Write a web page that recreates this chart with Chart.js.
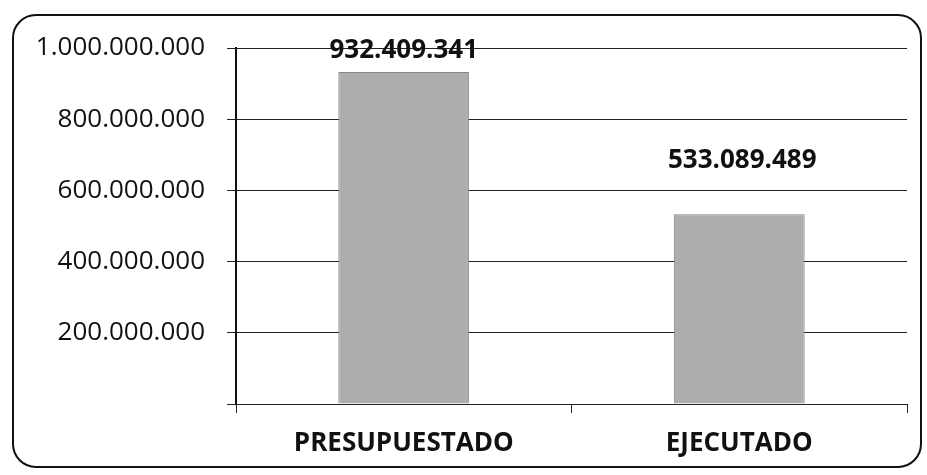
<!DOCTYPE html>
<html>
<head>
<meta charset="utf-8">
<script src="https://cdn.jsdelivr.net/npm/chart.js@4/dist/chart.umd.min.js"></script>
<style>
  body { margin: 0; background: #fff; }
  #wrap { position: relative; width: 927px; height: 475px; }
  #frame {
    position: absolute; left: 12px; top: 14px; width: 910px; height: 454px;
    border: 2px solid #111; border-radius: 24px; box-sizing: border-box;
  }
  canvas { position: absolute; left: 0; top: 0; }
</style>
</head>
<body>
<div id="wrap">
  <div id="frame"></div>
  <canvas id="chart" width="927" height="475"></canvas>
</div>
<script>
const categories = ['PRESUPUESTADO', 'EJECUTADO'];
const values = [932409341, 533089489];
const yTicks = [0, 200000000, 400000000, 600000000, 800000000, 1000000000];

// formato con puntos de miles
const fmt = (v) => String(v).replace(/\B(?=(\d{3})+(?!\d))/g, '.');

// etiquetas de valor encima de cada barra
const valueLabels = {
  id: 'valueLabels',
  afterDatasetsDraw(chart) {
    const ctx = chart.ctx;
    const gaps = [14, 46];
    ctx.save();
    ctx.font = 'bold 26px "Open Sans"';
    ctx.fillStyle = '#111';
    ctx.textAlign = 'center';
    ctx.textBaseline = 'alphabetic';
    chart.getDatasetMeta(0).data.forEach((bar, i) => {
      ctx.fillText(fmt(values[i]), bar.x + (i === 1 ? 3 : 0), bar.y - gaps[i]);
    });
    ctx.restore();
  }
};

new Chart(document.getElementById('chart'), {
  type: 'bar',
  data: {
    labels: categories,
    datasets: [{
      data: values,
      backgroundColor: '#adadad',
      borderColor: '#858585',
      borderWidth: 1,
      barPercentage: 0.39,
      categoryPercentage: 1
    }]
  },
  options: {
    responsive: false,
    animation: false,
    layout: { padding: { left: 0, right: 20, top: 48, bottom: 0 } },
    plugins: { legend: { display: false }, tooltip: { enabled: false } },
    scales: {
      x: {
        offset: true,
        grid: { display: true, drawOnChartArea: false, drawTicks: true, tickLength: 9, color: '#222', offset: true },
        border: { display: false },
        ticks: { color: '#111', font: { family: 'Open Sans', size: 26, weight: 'bold' }, padding: 15 },
        afterFit(scale) { scale.height = 71; }
      },
      y: {
        min: 0,
        max: 1000000000,
        afterBuildTicks(scale) { scale.ticks = yTicks.map(v => ({ value: v })); },
        grid: { color: '#222', lineWidth: 1, tickLength: 9 },
        border: { display: true, color: '#111', width: 2 },
        ticks: {
          color: '#111',
          font: { family: 'Open Sans', size: 26 },
          padding: 22,
          callback: (v) => v === 0 ? '' : fmt(v)
        },
        afterFit(scale) { scale.width = 236; }
      }
    }
  },
  plugins: [valueLabels]
});
</script>
</body>
</html>
